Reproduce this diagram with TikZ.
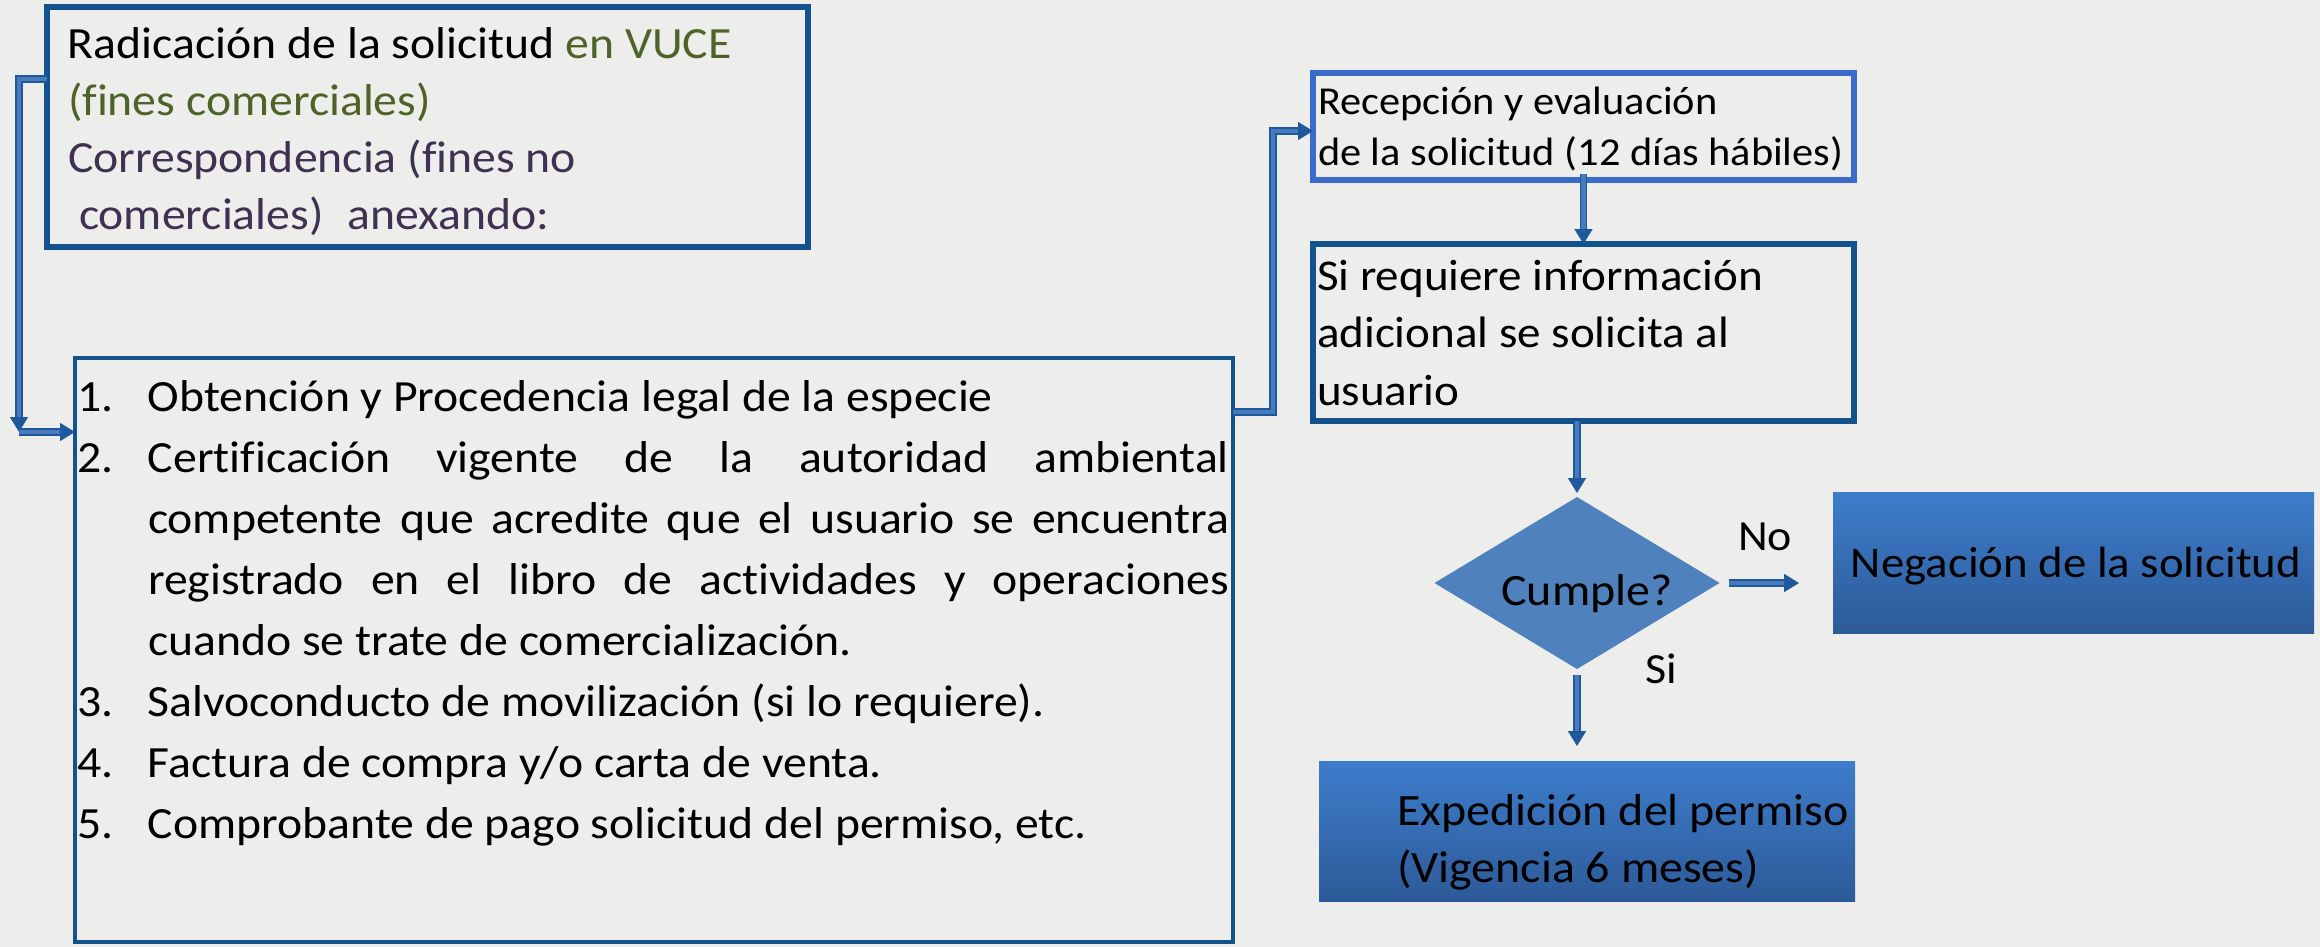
\documentclass[tikz,border=0pt]{standalone}
\usepackage{fontspec}
\setmainfont{Carlito}[FakeStretch=1.07,Ligatures=NoCommon]
\usetikzlibrary{arrows.meta,shapes.geometric,fit}
\definecolor{bg}{RGB}{237,237,235}
\definecolor{dkb}{RGB}{20,82,140}
\definecolor{brb}{RGB}{58,107,203}
\definecolor{arO}{RGB}{30,90,155}
\definecolor{arI}{RGB}{72,122,190}
\definecolor{dia}{RGB}{79,129,189}
\definecolor{gtop}{RGB}{61,125,204}
\definecolor{gbot}{RGB}{45,90,152}
\definecolor{grn}{RGB}{79,98,40}
\definecolor{pur}{RGB}{63,49,81}
\tikzset{
  box/.style={inner sep=0pt, outer sep=0pt, draw=dkb, line width=2.7pt},
  gbox/.style={inner sep=0pt, outer sep=0pt, top color=gtop, bottom color=gbot, draw=none},
  tb/.style={inner sep=0pt, outer sep=0pt, anchor=north west, align=left},
  tbase/.style={inner sep=0pt, outer sep=0pt, anchor=base},
  conn/.style={draw=arO, line width=0.8pt, double=arI, double distance=2.2pt,
    -{Triangle[length=7.5pt,width=9pt]}},
}
\begin{document}
\begin{tikzpicture}[x=0.5pt,y=-0.5pt]
\useasboundingbox[fill=bg] (0,0) rectangle (2320,947);
% box corners
\coordinate (topA) at (47,7);     \coordinate (topB) at (808,247);
\coordinate (bigA) at (75,358);   \coordinate (bigB) at (1233,942);
\coordinate (recA) at (1313,73);  \coordinate (recB) at (1854,180);
\coordinate (reqA) at (1313,244); \coordinate (reqB) at (1854,421);
\coordinate (negA) at (1833,492); \coordinate (negB) at (2314,633);
\coordinate (expA) at (1319,761); \coordinate (expB) at (1855,901);
% boxes
\node[box, fit=(topA)(topB)] (top) {};
\node[box, line width=2.4pt, fit=(bigA)(bigB)] (big) {};
\node[box, draw=brb, line width=3pt, fit=(recA)(recB)] (rec) {};
\node[box, line width=3.2pt, fit=(reqA)(reqB)] (req) {};
\node[gbox, fit=(negA)(negB)] (neg) {};
\node[gbox, fit=(expA)(expB)] (exp) {};
\node[diamond, fill=dia, inner sep=0pt, outer sep=0pt, minimum width=142.5pt, minimum height=86pt] (dia) at (1577,583) {};
% connector bends
\coordinate (k1) at (19,79);
\coordinate (k2) at (19,432);
\coordinate (k3) at (1273,412);
\coordinate (k4) at (1273,131);
\draw[conn] (top.west |- k1) -- (k1) -- (k2);
\draw[conn] (k2) -- (big.west |- k2);
\draw[conn] (big.east |- k3) -- (k3) -- (k4) -- (rec.west |- k4);
\draw[conn, shorten <=-3pt] (rec.south) -- (req.north);
\draw[conn, shorten >=2pt] (req.south -| dia.north) -- (dia.north);
\draw[conn, shorten <=4.5pt, shorten >=17pt] (dia.east) -- (dia.east -| neg.west);
\draw[conn, shorten <=3pt, shorten >=7.5pt] (dia.south) -- (dia.south |- exp.north);
% texts
\node[tb, font=\fontsize{22.3}{28.65}\selectfont] (toptx) at (68,17.9) {\strut Radicación de la solicitud \textcolor{grn}{en VUCE}\\
\strut\textcolor{grn}{(fines comerciales)}\\
\strut\textcolor{pur}{Correspondencia (fines no}\\
\strut\hspace*{5.5pt}\textcolor{pur}{comerciales)\hspace{12pt}anexando:}};
\node[tb, font=\fontsize{22.3}{30.5}\selectfont] (lst) at (77,368.3) {%
\strut\makebox[35.5pt][l]{1.}Obtención y Procedencia legal de la especie\\
\strut\makebox[35.5pt][l]{2.}\makebox[540.5pt][s]{Certificación vigente de la autoridad ambiental}\\
\strut\hspace*{35.5pt}\makebox[540.5pt][s]{competente que acredite que el usuario se encuentra}\\
\strut\hspace*{35.5pt}\makebox[540.5pt][s]{registrado en el libro de actividades y operaciones}\\
\strut\hspace*{35.5pt}cuando se trate de comercialización.\\
\strut\makebox[35.5pt][l]{3.}Salvoconducto de movilización (si lo requiere).\\
\strut\makebox[35.5pt][l]{4.}Factura de compra y/o carta de venta.\\
\strut\makebox[35.5pt][l]{5.}Comprobante de pago solicitud del permiso, etc.};
\node[tb, font=\fontsize{19.8}{25.5}\selectfont] (rectx) at (1318,79.3) {\strut Recepción y evaluación\\ \strut de la solicitud (12 días hábiles)};
\node[tb, font=\fontsize{22}{28.75}\selectfont] (reqtx) at (1317,249.75) {\strut Si requiere información\\ \strut adicional se solicita al\\ \strut usuario};
\node[tb, font=\fontsize{22.4}{28.5}\selectfont] (exptx) at (1397,785.1) {\strut Expedición del permiso\\ \strut (Vigencia 6 meses)};
\node[tbase, font=\fontsize{21.9}{26}\selectfont] (negtx) at (2076,577) {Negación de la solicitud};
\node[tbase, font=\fontsize{22.4}{26}\selectfont] (diatx) at (1587,605) {Cumple?};
\node[tbase, font=\fontsize{21.5}{26}\selectfont] (notx) at (1765,550) {No};
\node[tbase, font=\fontsize{21.5}{26}\selectfont] (sitx) at (1661,683) {Si};
\end{tikzpicture}
\end{document}
